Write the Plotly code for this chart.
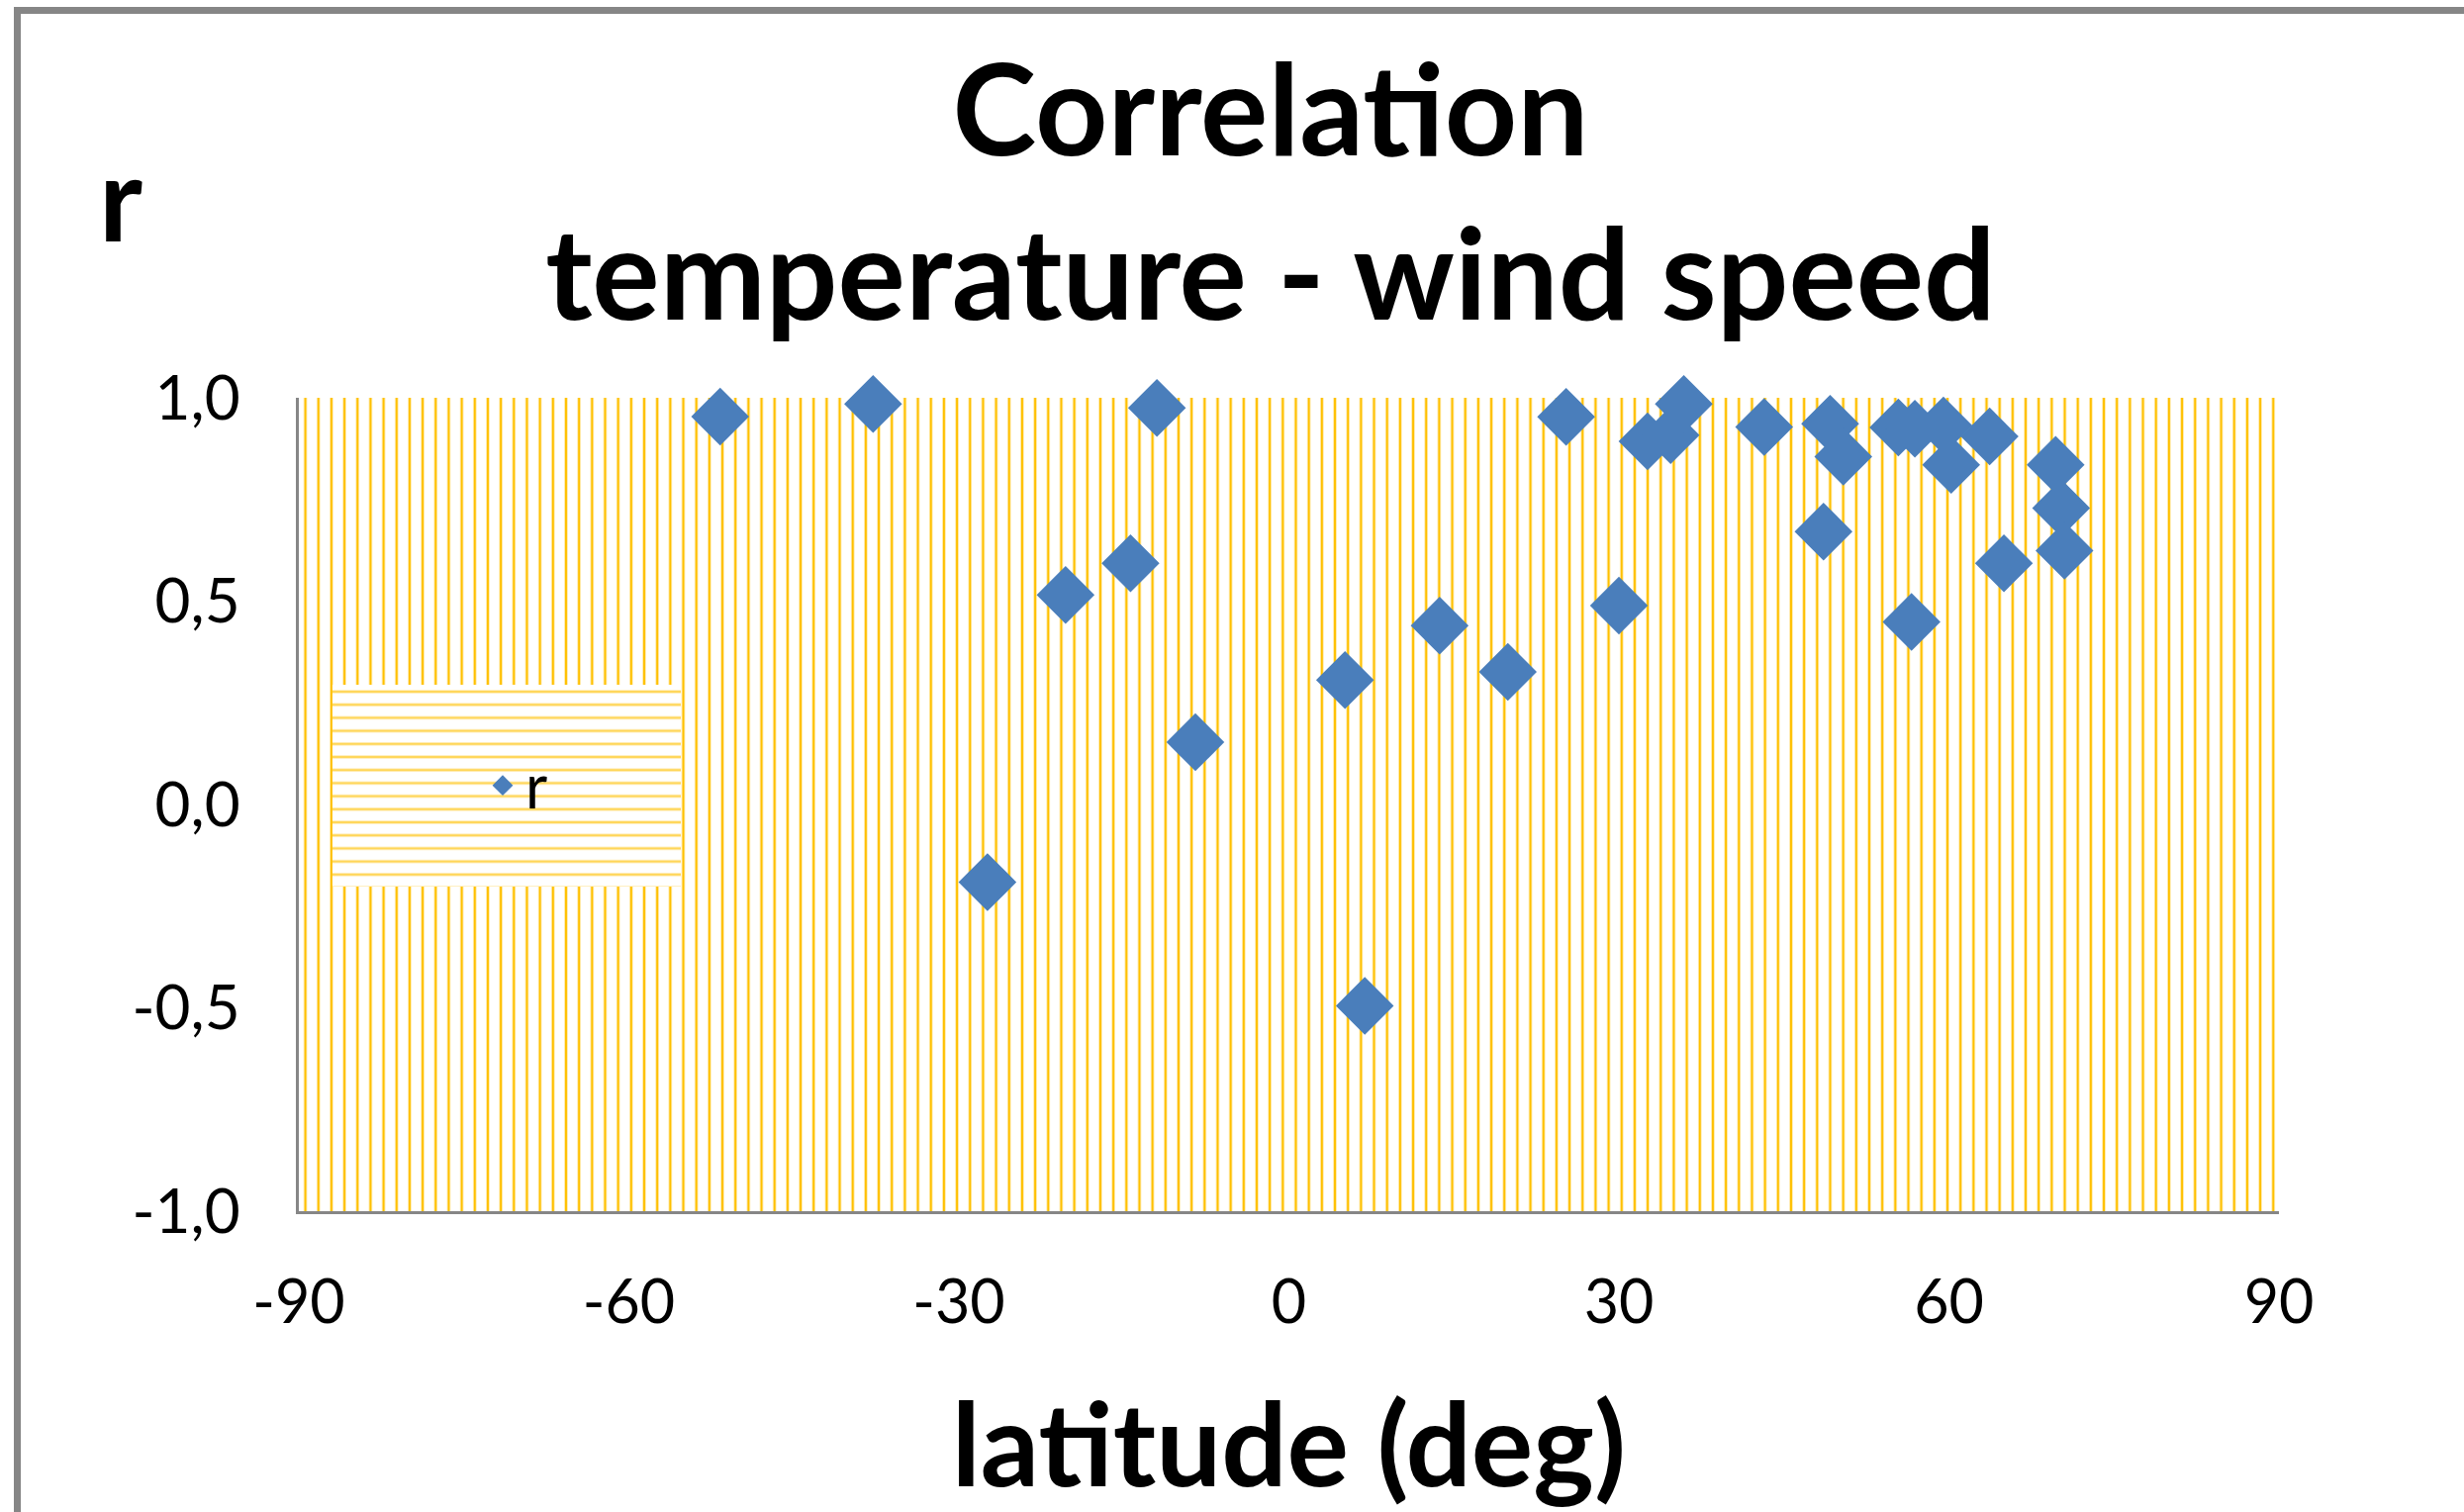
import plotly.graph_objects as go

# ---------------- data ----------------
latitude = [-51.7, -37.8, -27.4, -20.3, -14.4, -12.0, -8.5, 5.1, 6.9, 13.7,
            19.9, 25.2, 29.1, 30.0, 32.6, 34.7, 35.9, 43.2, 48.6, 49.2,
            50.4, 55.4, 56.6, 56.9, 59.5, 60.2, 63.7, 65.0, 69.7, 70.2, 70.5]
r_values = [0.954, 0.985, -0.191, 0.515, 0.593, 0.975, 0.153, 0.306, -0.495, 0.440,
            0.326, 0.953, 1.009, 0.489, 0.893, 0.908, 0.985, 0.928, 0.671, 0.936,
            0.855, 0.927, 0.449, 0.924, 0.932, 0.835, 0.905, 0.593, 0.835, 0.729, 0.624]

x_ticks = [-90, -60, -30, 0, 30, 60, 90]
x_tick_labels = ["-90", "-60", "-30", "0", "30", "60", "90"]
y_ticks = [-1.0, -0.5, 0.0, 0.5, 1.0]
y_tick_labels = ["-1,0", "-0,5", "0,0", "0,5", "1,0"]
x_range = [-90, 90]
y_range = [-1.0, 1.0]

# ---------------- geometry ----------------
W, H = 2490, 1528
L, R, T, B = 302, 187, 402, 304
PW = W - L - R
PH = H - T - B


def paper_x(px):
    return (px - L) / PW


def paper_y(py):
    return 1 - (py - T) / PH


def data_x(px):
    return x_range[0] + (px - L) / PW * (x_range[1] - x_range[0])


def data_y(py):
    return y_range[1] - (py - T) / PH * (y_range[1] - y_range[0])


YELLOW = "#FFC000"
BLUE = "#4A7EBB"
GREY = "#868686"
FONT = "Lato"

fig = go.Figure()

# hatched plot-area background (vertical yellow lines)
fig.add_trace(go.Bar(
    x=[(x_range[0] + x_range[1]) / 2], y=[y_range[1] - y_range[0]], base=[y_range[0]],
    width=[x_range[1] - x_range[0]],
    marker=dict(color=YELLOW, line=dict(width=0),
                pattern=dict(shape="|", size=13.17, solidity=0.19,
                             bgcolor="white", fillmode="replace")),
    hoverinfo="skip", showlegend=False))

# hatched legend box (horizontal yellow lines)
lb_x0, lb_x1, lb_y0, lb_y1 = 336, 688, 692, 896
fig.add_trace(go.Bar(
    x=[(data_x(lb_x0) + data_x(lb_x1)) / 2], y=[data_y(lb_y0) - data_y(lb_y1)],
    base=[data_y(lb_y1)], width=[data_x(lb_x1) - data_x(lb_x0)],
    marker=dict(color=YELLOW, line=dict(width=0),
                pattern=dict(shape="-", size=13.2, solidity=0.2, fgopacity=0.65,
                             bgcolor="white", fillmode="replace")),
    hoverinfo="skip", showlegend=False))

# data
fig.add_trace(go.Scatter(
    x=latitude, y=r_values, mode="markers", name="r",
    marker=dict(symbol="diamond", size=45, color=BLUE, line=dict(width=0)),
    cliponaxis=False))

fig.update_layout(
    width=W, height=H,
    margin=dict(l=L, r=R, t=T, b=B, autoexpand=False),
    paper_bgcolor="white", plot_bgcolor="white",
    barmode="overlay", bargap=0,
    font=dict(family=FONT, color="black"),
    title=dict(text="Correlation<br>temperature - wind speed",
               font=dict(family=FONT, size=128, color="black", weight="bold"),
               x=paper_x(1284), xref="paper", xanchor="center",
               y=1 - 157 / H, yref="container", yanchor="middle"),
    showlegend=True,
    legend=dict(x=paper_x(485), y=paper_y(794), xanchor="left", yanchor="middle",
                bgcolor="rgba(0,0,0,0)", borderwidth=0, itemwidth=36,
                font=dict(family=FONT, size=61, color="black")),
    xaxis=dict(range=x_range, tickmode="array", tickvals=x_ticks, ticktext=x_tick_labels,
               showgrid=False, zeroline=False, showline=True, linecolor=GREY, linewidth=3,
               ticks="", tickfont=dict(family=FONT, size=61, color="black"),
               ticklabelstandoff=37,
               title=dict(text="latitude (deg)",
                          font=dict(family=FONT, size=117, color="black", weight="bold"),
                          standoff=71)),
    yaxis=dict(range=y_range, tickmode="array", tickvals=y_ticks, ticktext=y_tick_labels,
               showgrid=False, zeroline=False, showline=True, linecolor=GREY, linewidth=3,
               ticks="", tickfont=dict(family=FONT, size=62, color="black"),
               ticklabelstandoff=44),
    annotations=[dict(text="r", x=paper_x(122), y=paper_y(199), xref="paper", yref="paper",
                      xanchor="center", yanchor="middle", showarrow=False,
                      font=dict(family=FONT, size=118, color="black", weight="bold"))],
    shapes=[dict(type="rect", xref="paper", yref="paper",
                 x0=paper_x(17.5), x1=paper_x(2510), y0=paper_y(1550), y1=paper_y(10.5),
                 line=dict(color=GREY, width=7), fillcolor="rgba(0,0,0,0)", layer="below")],
)

fig.write_html("out.html")
